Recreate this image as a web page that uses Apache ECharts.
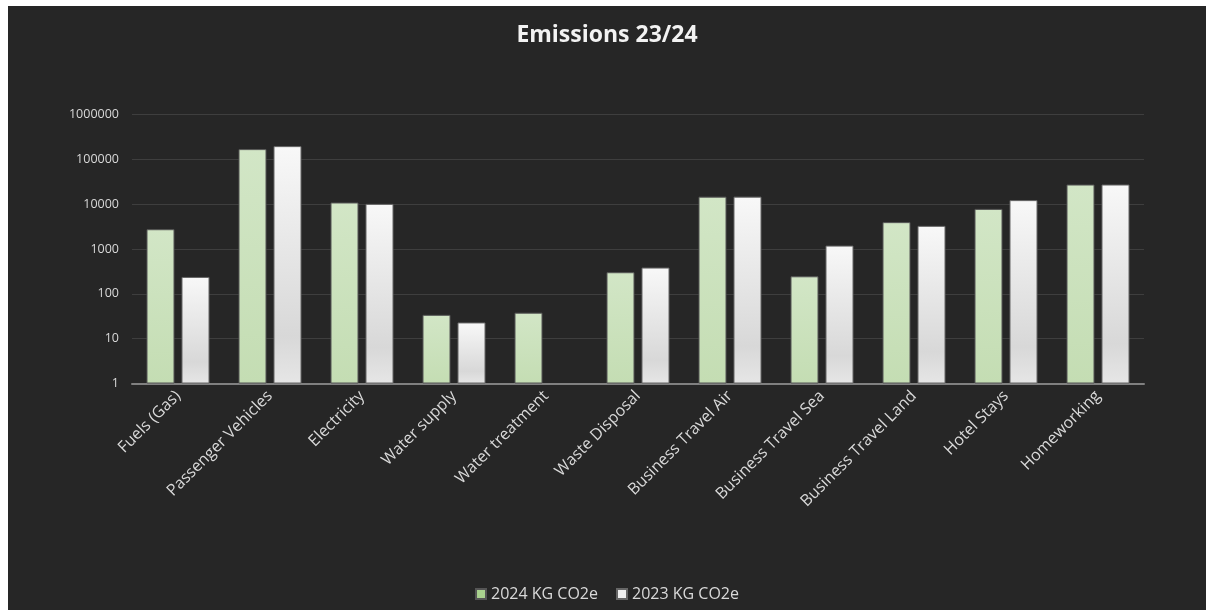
<!DOCTYPE html>
<html>
<head>
<meta charset="utf-8">
<script src="https://cdn.jsdelivr.net/npm/echarts@6/dist/echarts.min.js"></script>
<style>
  html, body { margin: 0; padding: 0; background: #ffffff; }
  #chart { position: absolute; left: 8px; top: 6px; width: 1198px; height: 604px; background: #262626; }
</style>
</head>
<body>
<div id="chart"></div>
<script>
const categories = ['Fuels (Gas)', 'Passenger Vehicles', 'Electricity', 'Water supply', 'Water treatment', 'Waste Disposal', 'Business Travel Air', 'Business Travel Sea', 'Business Travel Land', 'Hotel Stays', 'Homeworking'];
const values2024 = [2760, 169000, 10900, 34, 38, 303, 14700, 246, 3970, 7850, 27400];
const values2023 = [238, 197000, 10150, 23, null, 385, 14700, 1190, 3280, 12300, 27400];
const seriesNames = ['2024 KG CO2e', '2023 KG CO2e'];
const yTicks = [1, 10, 100, 1000, 10000, 100000, 1000000];

const font = '"Open Sans", "Noto Sans", sans-serif';
const chart = echarts.init(document.getElementById('chart'));
const greenFill = new echarts.graphic.LinearGradient(0, 0, 0, 1, [
  { offset: 0, color: '#d2e6c6' },
  { offset: 1, color: '#c4ddb3' }
]);
const whiteFill = new echarts.graphic.LinearGradient(0, 0, 0, 1, [
  { offset: 0, color: '#f8f8f8' },
  { offset: 0.8, color: '#d8d8d8' },
  { offset: 1, color: '#e6e6e6' }
]);
chart.setOption({
  backgroundColor: '#262626',
  animation: false,
  title: {
    text: 'Emissions 23/24',
    left: 'center',
    top: 13,
    textStyle: { color: '#f2f2f2', fontSize: 23, fontWeight: 'bold', fontFamily: font }
  },
  legend: {
    data: [
      { name: seriesNames[0], itemStyle: { color: '#a9d18e' } },
      { name: seriesNames[1], itemStyle: { color: '#eeeeee' } }
    ],
    bottom: 3,
    left: 'center',
    itemWidth: 10,
    itemHeight: 10,
    itemGap: 18,
    icon: 'rect',
    textStyle: { color: '#d9d9d9', fontSize: 16, fontFamily: font }
  },
  grid: { left: 124, right: 62, top: 108.5, bottom: 226.5, containLabel: false },
  xAxis: {
    type: 'category',
    data: categories,
    axisTick: { show: false },
    axisLine: { lineStyle: { color: '#808080', width: 2 } },
    axisLabel: { rotate: 45, color: '#d9d9d9', fontSize: 16, fontFamily: font, margin: 10, interval: 0 }
  },
  yAxis: {
    type: 'log',
    logBase: 10,
    min: 1,
    max: 1000000,
    axisLine: { show: false },
    axisTick: { show: false },
    splitLine: { lineStyle: { color: '#3e3e3e', width: 1 } },
    axisLabel: {
      color: '#d9d9d9', fontSize: 12.5, fontFamily: font, margin: 13,
      formatter: v => String(Math.round(v))
    }
  },
  series: [
    {
      name: seriesNames[0], type: 'bar', data: values2024,
      barWidth: 28, barGap: '25%',
      itemStyle: { color: greenFill, borderColor: '#555555', borderWidth: 1 }
    },
    {
      name: seriesNames[1], type: 'bar', data: values2023,
      barWidth: 28, barGap: '25%',
      itemStyle: { color: whiteFill, borderColor: '#666666', borderWidth: 1 }
    }
  ]
});
</script>
</body>
</html>
